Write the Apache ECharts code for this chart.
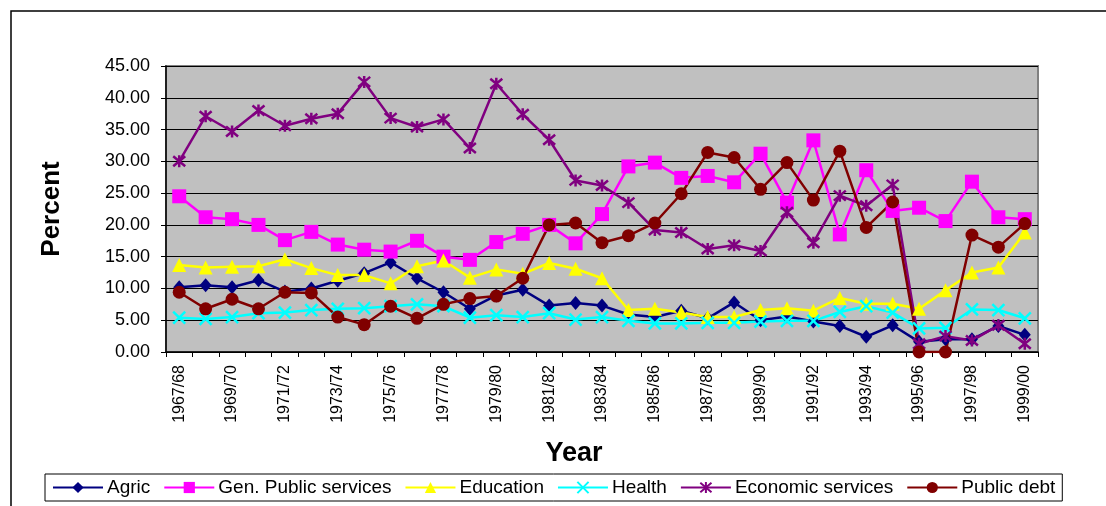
<!DOCTYPE html>
<html>
<head>
<meta charset="utf-8">
<script src="https://cdn.jsdelivr.net/npm/echarts@6/dist/echarts.min.js"></script>
<style>
html,body{margin:0;padding:0;background:#fff;}
#c{width:1106px;height:506px;}
</style>
</head>
<body>
<div id="c"></div>
<script>
const years = ["1967/68","1968/69","1969/70","1970/71","1971/72","1972/73","1973/74","1974/75","1975/76","1976/77","1977/78","1978/79","1979/80","1980/81","1981/82","1982/83","1983/84","1984/85","1985/86","1986/87","1987/88","1988/89","1989/90","1990/91","1991/92","1992/93","1993/94","1994/95","1995/96","1996/97","1997/98","1998/99","1999/00"];
const agric = [10.2,10.5,10.2,11.3,9.5,10.0,11.2,12.4,14.1,11.6,9.4,6.8,8.9,9.8,7.3,7.7,7.3,5.9,5.5,6.5,5.3,7.8,5.0,5.6,4.8,4.1,2.4,4.2,1.6,2.0,2.0,4.1,2.7];
const genPublic = [24.5,21.2,20.9,20.0,17.6,18.9,16.9,16.1,15.8,17.5,15.0,14.5,17.3,18.6,20.0,17.1,21.7,29.2,29.8,27.4,27.7,26.7,31.2,23.5,33.3,18.5,28.6,22.2,22.7,20.6,26.8,21.2,20.9];
const education = [13.7,13.3,13.4,13.5,14.6,13.2,12.1,12.1,10.8,13.5,14.4,11.7,13.0,12.3,14.0,13.1,11.6,6.6,6.8,6.2,5.5,5.5,6.6,6.9,6.5,8.5,7.6,7.6,6.8,9.7,12.5,13.3,18.8];
const health = [5.4,5.2,5.5,6.1,6.2,6.6,6.8,6.9,7.2,7.5,7.2,5.4,5.8,5.5,6.1,5.1,5.5,4.9,4.5,4.5,4.6,4.6,4.8,4.9,4.9,6.3,7.2,6.2,3.7,3.8,6.7,6.6,5.3];
const economic = [30.0,37.1,34.7,38.0,35.6,36.7,37.5,42.5,36.8,35.4,36.6,32.1,42.2,37.4,33.4,27.0,26.2,23.5,19.2,18.8,16.2,16.8,15.9,22.0,17.2,24.6,23.0,26.3,1.3,2.5,1.8,4.2,1.3];
const publicDebt = [9.4,6.8,8.3,6.8,9.4,9.3,5.5,4.3,7.2,5.3,7.5,8.4,8.8,11.6,20.0,20.3,17.2,18.3,20.3,24.9,31.4,30.6,25.6,29.8,23.9,31.6,19.6,23.6,0,0,18.4,16.5,20.2];
const yTicks = [0,5,10,15,20,25,30,35,40,45];

const font = "Arial, 'Liberation Sans', sans-serif";
const chart = echarts.init(document.getElementById('c'));

function mk(name, data, color, symbol, size, stroke) {
  const s = {
    name, type: 'line', data,
    symbol, symbolSize: size,
    lineStyle: {color, width: 2.5},
    itemStyle: {color, borderColor: color, borderWidth: stroke ? 2.5 : 0},
    emphasis: {disabled: true},
    animation: false
  };
  if (stroke) s.itemStyle.color = 'rgba(0,0,0,0)';
  return s;
}

chart.setOption({
  backgroundColor: '#fff',
  animation: false,
  graphic: [{
    type: 'rect', shape: {x: 11, y: 11, width: 1200, height: 600},
    style: {fill: 'none', stroke: '#000', lineWidth: 1.5}, silent: true, z: -10
  }],
  grid: {left: 166, top: 66, right: 68, bottom: 154, show: true, backgroundColor: '#c0c0c0', borderColor: '#808080', borderWidth: 2},
  legend: {
    left: 45, top: 474,
    backgroundColor: '#fff', borderColor: '#000', borderWidth: 1,
    padding: [4, 7, 4, 7],
    itemWidth: 50, itemHeight: 14, itemGap: 13,
    textStyle: {fontFamily: font, fontSize: 19, color: '#000', padding: [0,0,0,-1]},
    data: ['Agric','Gen. Public services','Education','Health','Economic services','Public debt']
  },
  xAxis: {
    type: 'category', data: years, boundaryGap: true,
    name: 'Year', nameLocation: 'middle', nameGap: 88,
    nameTextStyle: {fontFamily: font, fontSize: 27, fontWeight: 'bold', color: '#000', padding: [0, 56, 0, 0]},
    axisLine: {lineStyle: {color: '#000', width: 1.5}},
    axisTick: {show: true, interval: 0, length: 5, lineStyle: {color: '#000'}},
    axisLabel: {interval: 1, rotate: 90, fontFamily: font, fontSize: 16, color: '#000', margin: 13},
    splitLine: {show: false}
  },
  yAxis: {
    type: 'value', min: yTicks[0], max: yTicks[yTicks.length-1], interval: 5,
    name: 'Percent', nameLocation: 'middle', nameGap: 101, nameRotate: 90,
    nameTextStyle: {fontFamily: font, fontSize: 26, fontWeight: 'bold', color: '#000'},
    axisLine: {show: true, lineStyle: {color: '#000', width: 1.5}},
    axisTick: {show: true, length: 5, lineStyle: {color: '#000'}},
    axisLabel: {fontFamily: font, fontSize: 18, color: '#000', margin: 16, formatter: v => v.toFixed(2)},
    splitLine: {show: true, lineStyle: {color: '#000', width: 1}}
  },
  series: [
    mk('Agric', agric, '#000080', 'diamond', [12, 14], false),
    mk('Gen. Public services', genPublic, '#ff00ff', 'rect', 14, false),
    mk('Education', education, '#ffff00', 'triangle', 14, false),
    mk('Health', health, '#00ffff', 'path://M0,0L10,10M0,10L10,0', 12, true),
    mk('Economic services', economic, '#800080', 'path://M0,0L10,10M0,10L10,0M5,-1L5,11', 12, true),
    mk('Public debt', publicDebt, '#800000', 'circle', 13, false)
  ]
});
</script>
</body>
</html>
